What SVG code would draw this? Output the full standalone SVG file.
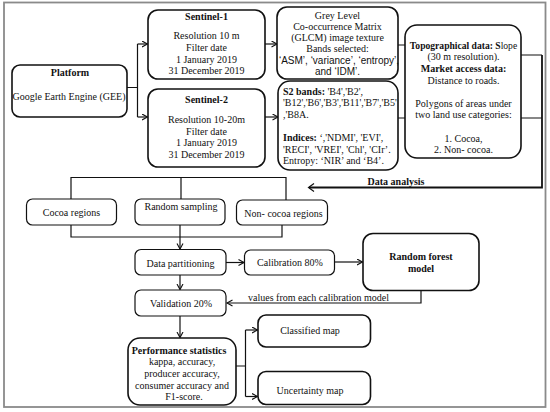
<svg xmlns="http://www.w3.org/2000/svg" width="550" height="412" viewBox="0 0 550 412">
<defs>
<marker id="ar" markerUnits="userSpaceOnUse" markerWidth="8" markerHeight="8" refX="6" refY="3.5" orient="auto">
<path d="M0.5,0.5 L6,3.5 L0.5,6.5" fill="none" stroke="#111" stroke-width="1.1"/>
</marker>
<style>
text{font-family:"Liberation Serif","Times New Roman",serif;font-size:10px;fill:#111}
.c{text-anchor:middle}
.b{font-weight:bold}
.s{font-family:"Liberation Sans",Arial,sans-serif;font-size:10px}
.big{fill:#fff;stroke:#111;stroke-width:1.6}
.sm{fill:#fff;stroke:#111;stroke-width:1.2}
.ln{fill:none;stroke:#111;stroke-width:1.2}
.la{fill:none;stroke:#111;stroke-width:1.2;marker-end:url(#ar)}
</style>
</defs>
<rect x="4" y="2.5" width="541.5" height="404.5" fill="#fff" stroke="#8a8a8a" stroke-width="1.8"/>

<g id="connectors">
<path class="ln" d="M127,87.5 H137.5 M137.5,44 V117"/>
<path class="la" d="M137.5,44 H147.5"/>
<path class="la" d="M137.5,117 H147.5"/>
<path class="la" d="M265,44 H277"/>
<path class="la" d="M265,117 H278"/>
<path class="ln" d="M398,45 H405 M398,118 H405"/>
<path class="ln" d="M521,55 H542 M521,118 H542"/>
<path fill="none" stroke="#111" stroke-width="1.8" d="M542,55 V187.5 H309"/>
<path fill="none" stroke="#111" stroke-width="1.2" d="M314,183.5 L308.5,187.5 L314,191.5"/>
<path class="ln" d="M71,199 V177.5 H286 V200 M181,177.5 V199"/>
<path class="ln" d="M71,225 V237 H282 V225"/>
<path class="la" d="M180,225 V249"/>
<path class="la" d="M226,262.5 H244"/>
<path class="la" d="M334,262 H362.5"/>
<path class="la" d="M180,275 V289.5"/>
<path class="la" d="M421,290.5 V303 H227"/>
<path class="la" d="M180,316 V337.5"/>
<path class="ln" d="M236,366 H245.5 M245.5,330 V396.5"/>
<path class="la" d="M245.5,330 H257.5"/>
<path class="la" d="M245.5,396.5 H257.5"/>
<text x="396" y="185" class="c b">Data analysis</text>
<text x="248" y="300.5">values from each calibration model</text>
</g>

<g id="platform">
<rect class="big" x="12" y="65" width="115" height="52" rx="8"/>
<text x="70" y="76" class="c b">Platform</text>
<text x="69" y="100" class="c">Google Earth Engine  (GEE)</text>
</g>

<g id="sentinel1">
<rect class="big" x="148" y="10" width="117" height="69" rx="10"/>
<text x="206.5" y="20" class="c b">Sentinel-1</text>
<text x="206.5" y="38.5" class="c">Resolution 10 m</text>
<text x="206.5" y="51" class="c">Filter date</text>
<text x="206.5" y="63" class="c">1 January 2019</text>
<text x="206.5" y="74" class="c">31 December 2019</text>
</g>

<g id="sentinel2">
<rect class="big" x="148" y="89" width="117" height="78" rx="10"/>
<text x="206.5" y="103" class="c b">Sentinel-2</text>
<text x="206.5" y="122.5" class="c">Resolution 10-20m</text>
<text x="206.5" y="134.5" class="c">Filter date</text>
<text x="206.5" y="146" class="c">1 January 2019</text>
<text x="206.5" y="157.5" class="c">31 December 2019</text>
</g>

<g id="glcm">
<rect class="big" x="277" y="7" width="121" height="72" rx="10"/>
<text x="337.5" y="18.5" class="c">Grey Level</text>
<text x="337.5" y="29.5" class="c">Co-occurrence Matrix</text>
<text x="337.5" y="41" class="c">(GLCM) image texture</text>
<text x="337.5" y="52" class="c">Bands selected:</text>
<text x="339" y="63.5" class="c s">‘ASM’, ‘variance’, ‘entropy’,</text>
<text x="337.5" y="75" class="c s">and ‘IDM’.</text>
</g>

<g id="s2bands">
<rect class="big" x="278" y="81" width="120" height="89" rx="12"/>
<text x="283" y="95"><tspan class="b">S2 bands:</tspan> 'B4','B2',</text>
<text x="283" y="106">'B12','B6','B3','B11','B7','B5'</text>
<text x="283" y="117.5">,'B8A.</text>
<text x="283" y="140.5"><tspan class="b">Indices:</tspan> ‘,'NDMI', 'EVI',</text>
<text x="283" y="152.5">'RECI', 'VREI', 'Chl', 'CIr’.</text>
<text x="283" y="164">Entropy: ‘NIR’ and ‘B4’.</text>
</g>

<g id="topo">
<rect class="big" x="405" y="25" width="116" height="133" rx="12" stroke-width="1.9"/>
<text x="463.5" y="49" class="c" style="font-size:9.6px"><tspan class="b">Topographical data: S</tspan>lope</text>
<text x="463.5" y="60" class="c">(30 m resolution).</text>
<text x="463.5" y="72" class="c b">Market access data:</text>
<text x="463.5" y="83.5" class="c">Distance to roads.</text>
<text x="463.5" y="107" class="c">Polygons of  areas under</text>
<text x="463.5" y="117.5" class="c">two land use categories:</text>
<text x="463.5" y="141.5" class="c">1.   Cocoa,</text>
<text x="463.5" y="152.5" class="c">2.   Non- cocoa.</text>
</g>

<g id="cocoa">
<rect class="sm" x="26.5" y="199" width="90" height="26" rx="6"/>
<text x="71.5" y="216" class="c">Cocoa regions</text>
</g>

<g id="random-sampling">
<rect class="sm" x="135" y="199" width="90" height="26" rx="6"/>
<text x="181" y="209.5" class="c">Random sampling</text>
</g>

<g id="noncocoa">
<rect class="sm" x="236.5" y="200" width="91" height="25" rx="6"/>
<text x="283.5" y="216.5" class="c">Non- cocoa regions</text>
</g>

<g id="partitioning">
<rect class="sm" x="135" y="249.5" width="91" height="25.5" rx="6"/>
<text x="180.5" y="266.5" class="c">Data partitioning</text>
</g>

<g id="calibration">
<rect class="sm" x="244.5" y="250" width="90" height="25" rx="6"/>
<text x="290" y="266" class="c">Calibration 80%</text>
</g>

<g id="randomforest">
<rect class="big" x="363" y="233.5" width="116" height="57" rx="10"/>
<text x="421" y="260" class="c b">Random forest</text>
<text x="421" y="271.5" class="c b">model</text>
</g>

<g id="validation">
<rect class="sm" x="135" y="290" width="91" height="26" rx="6"/>
<text x="181" y="306.5" class="c">Validation 20%</text>
</g>

<g id="performance">
<rect class="big" x="128" y="338" width="108" height="67" rx="12"/>
<text x="179" y="353.5" class="c b">Performance statistics</text>
<text x="182" y="364.5" class="c">kappa, accuracy,</text>
<text x="182" y="376.5" class="c">producer accuracy,</text>
<text x="182" y="388.5" class="c">consumer accuracy and</text>
<text x="184" y="400" class="c">F1-score.</text>
</g>

<g id="classified">
<rect class="big" x="258" y="315" width="112.5" height="32" rx="8"/>
<text x="310" y="333.5" class="c">Classified map</text>
</g>

<g id="uncertainty">
<rect class="big" x="258" y="371.5" width="112.5" height="33" rx="8"/>
<text x="310" y="393.5" class="c">Uncertainty  map</text>
</g>
</svg>
